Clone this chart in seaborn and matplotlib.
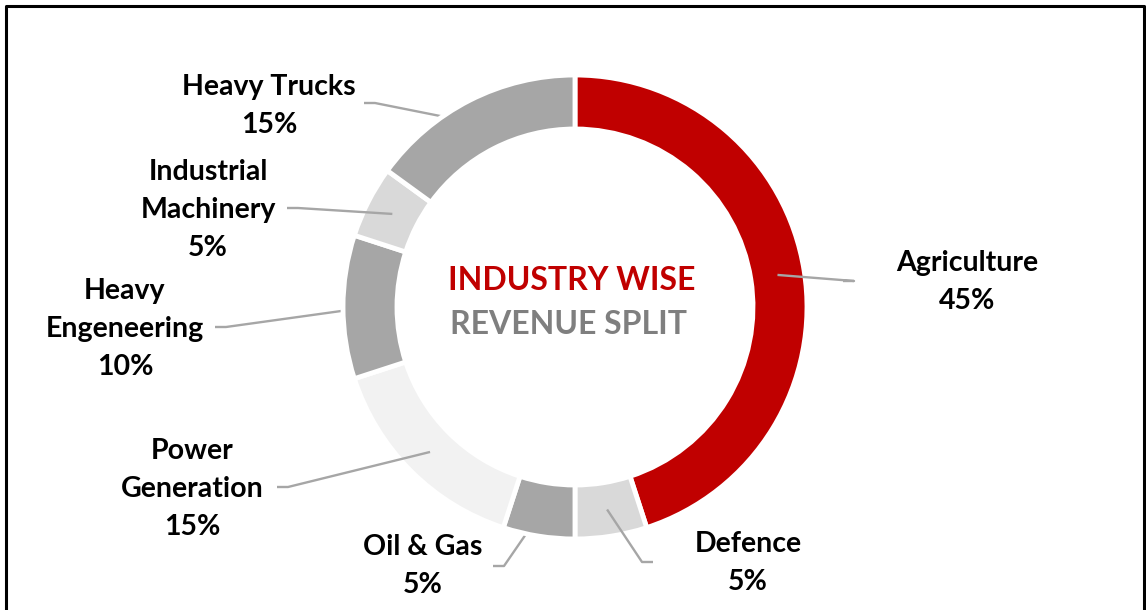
import numpy as np
import matplotlib.pyplot as plt
import seaborn as sns

# revenue split by industry, clockwise from 12 o'clock
categories = ["Agriculture", "Defence", "Oil & Gas", "Power\nGeneration",
              "Heavy\nEngeneering", "Industrial\nMachinery", "Heavy Trucks"]
shares = [45, 5, 5, 15, 10, 5, 15]
colors = ["#C00000", "#D9D9D9", "#A6A6A6", "#F2F2F2", "#A6A6A6", "#D9D9D9", "#A6A6A6"]
title_top = "INDUSTRY WISE"
title_bottom = "REVENUE SPLIT"

W, H = 1146, 610
sns.set_theme(style="white")
plt.rcParams['font.family'] = ['Lato', 'DejaVu Sans']

# label centre, where the leader starts, which side it goes, leader under ring?
label_layout = [
    ((967, 282), (843, 281), +1, False),
    ((748, 563), (653, 562), -1, False),
    ((423, 566), (493, 566), +1, True),
    ((192, 489), (277, 487), +1, False),
    ((125, 329), (215, 327), +1, True),
    ((208, 210), (287, 208), +1, False),
    ((269, 106), (364, 103), +1, True),
]

fig = plt.figure(figsize=(W / 100, H / 100), dpi=100)
ax = fig.add_axes([0, 0, 1, 1])

cx, cy = 575, H - 307
R, ring = 232, 54
wedges, _ = ax.pie(shares, colors=colors, startangle=90, counterclock=False,
                   center=(cx, cy), radius=R, frame=False,
                   wedgeprops=dict(width=ring, edgecolor='white', linewidth=3.5))
for w in wedges:
    w.set_zorder(2)
ax.set_xlim(0, W)
ax.set_ylim(0, H)

r_mid = R - ring / 2
for w, name, val, (pos, start, side, under) in zip(wedges, categories, shares, label_layout):
    ang = np.deg2rad((w.theta1 + w.theta2) / 2)
    tip = (cx + r_mid * np.cos(ang), cy + r_mid * np.sin(ang))
    sx, sy = start[0], H - start[1]
    ex = sx + side * 11
    ax.plot([sx, ex, tip[0]], [sy, sy, tip[1]], color='#A6A6A6', lw=1.7,
            zorder=1 if under else 3, solid_capstyle='butt')
    ax.text(pos[0], H - pos[1], f"{name}\n{val}%", ha='center', va='center',
            fontsize=20.5, fontweight='bold', color='black', linespacing=1.58)

ax.text(572, H - 280, title_top, ha='center', va='center', fontsize=23,
        fontweight='bold', color='#C00000')
ax.text(568, H - 325, title_bottom, ha='center', va='center', fontsize=23,
        fontweight='bold', color='#7F7F7F')

# outer frame (bottom edge falls outside the picture)
ax.plot([5.5, 5.5, 1143.5, 1143.5], [-10, H - 5.5, H - 5.5, -10], color='black',
        lw=2.2, clip_on=False, zorder=5)

fig.savefig('out.png', dpi=100)
